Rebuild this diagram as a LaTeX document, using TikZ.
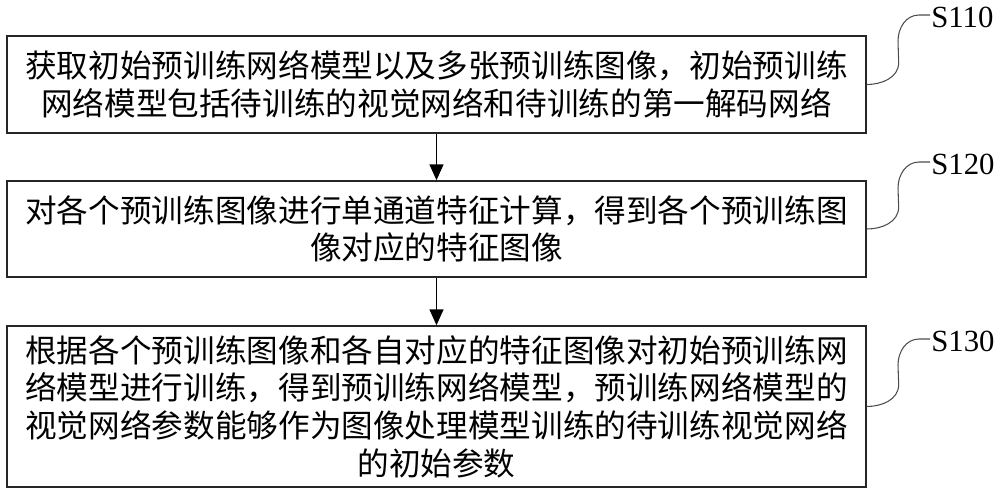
\documentclass[tikz,border=0pt]{standalone}
\usepackage{fontspec}
\setmainfont{Liberation Serif}
\newfontfamily\cjk{Noto Sans CJK SC}
\usetikzlibrary{arrows.meta,calc}
\begin{document}
\begin{tikzpicture}[x=0.02cm,y=-0.02cm,
  stepbox/.style={draw=black!85,line width=0.85pt,minimum width=17.18cm,inner sep=0pt,align=center,
    font=\cjk\fontsize{18pt}{21.4pt}\selectfont},
  leader/.style={draw=black!70,line width=0.6pt},
  steplabel/.style={anchor=west,inner sep=0pt,font=\fontsize{17.5pt}{20pt}\selectfont},
  flow/.style={draw=black,line width=0.85pt,-{Triangle[width=0.28cm,length=0.32cm]}}]
\useasboundingbox (0,0) rectangle (1000,495);
\node[stepbox,minimum height=1.94cm] (b1) at (436.5,84.5)
  {获取初始预训练网络模型以及多张预训练图像，初始预训练\\网络模型包括待训练的视觉网络和待训练的第一解码网络};
\node[stepbox,minimum height=1.92cm] (b2) at (436.5,229)
  {对各个预训练图像进行单通道特征计算，得到各个预训练图\\像对应的特征图像};
\node[stepbox,minimum height=3.22cm] (b3) at (436.5,406.5)
  {根据各个预训练图像和各自对应的特征图像对初始预训练网\\络模型进行训练，得到预训练网络模型，预训练网络模型的\\视觉网络参数能够作为图像处理模型训练的待训练视觉网络\\的初始参数};
\draw[flow] (b1.south) -- (b2.north);
\draw[flow] (b2.south) -- (b3.north);
\node[steplabel] (l1) at (931,17) {S110};
\node[steplabel] (l2) at (931,164) {S120};
\node[steplabel] (l3) at (931,341) {S130};
\foreach \b/\l in {b1/l1,b2/l2,b3/l3}{
  \draw[leader] (\b.east) to[out=0,in=270] ($(\b.east)+(32,-22)$) -- ($(\l.west)+(-33,24)$)
    to[out=90,in=180] ($(\l.west)+(-12,-2)$) -- ($(\l.west)+(-1,-2)$);
}
\end{tikzpicture}
\end{document}
